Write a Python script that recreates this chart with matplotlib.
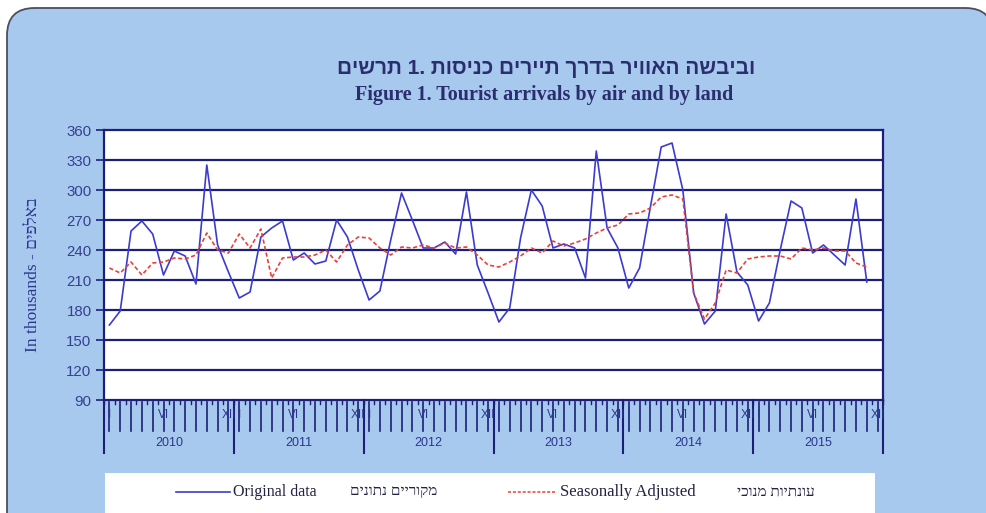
import matplotlib
matplotlib.use("Agg")
import matplotlib.pyplot as plt
from matplotlib.patches import FancyBboxPatch, Rectangle
import numpy as np

# monthly values, Jan 2010 .. Nov 2015 (thousands)
original = [165, 179, 259, 269, 256, 215, 239, 234, 206, 325, 245, 218,
            192, 198, 253, 262, 269, 230, 237, 226, 229, 270, 253, 220,
            190, 199, 250, 297, 270, 242, 242, 248, 236, 298, 225, 197,
            168, 182, 252, 300, 284, 242, 246, 242, 212, 339, 262, 242,
            202, 222, 283, 343, 347, 300, 197, 166, 179, 276, 218, 205,
            169, 187, 240, 289, 282, 237, 245, 235, 225, 291, 208]
seasonal = [222, 217, 228, 215, 227, 228, 232, 231, 235, 257, 240, 237,
            256, 242, 261, 212, 232, 233, 233, 235, 240, 228, 245, 253,
            252, 242, 235, 243, 242, 245, 242, 247, 242, 243, 235, 225,
            223, 228, 234, 242, 237, 249, 244, 247, 251, 257, 262, 265,
            276, 277, 282, 293, 295, 291, 197, 171, 187, 220, 217, 231,
            233, 234, 234, 231, 242, 240, 242, 239, 239, 227, 223]
years = ["2010", "2011", "2012", "2013", "2014", "2015"]
month_marks = {0: "I", 5: "VI", 11: "XII"}
yticks = [90, 120, 150, 180, 210, 240, 270, 300, 330, 360]

title_he = "תרשים 1. כניסות תיירים בדרך האוויר וביבשה"
title_en = "Figure 1. Tourist arrivals by air and by land"
ylabel_en = "In thousands - "
ylabel_he = "באלפים"
leg1_en, leg1_he = "Original data", "נתונים מקוריים"
leg2_en, leg2_he = "Seasonally Adjusted", "מנוכי עונתיות"

NAVY = "#1c1f78"
TXT = "#2b3590"
BG = "#a8c9ee"
W, H = 986, 513


def heb(s):
    # matplotlib has no bidi: flip the letters of each Hebrew word
    out = []
    for w in s.split(" "):
        if any("\u0590" <= c <= "\u05ff" for c in w):
            w = w[::-1]
        out.append(w)
    return " ".join(out)


def fx(px):
    return px / W


def fy(py):
    return 1 - py / H


fig = plt.figure(figsize=(W / 100, H / 100), dpi=100)
fig.patch.set_facecolor("white")

frame = FancyBboxPatch((fx(7), fy(540)), fx(993) - fx(7), fy(8) - fy(540),
                       boxstyle="round,pad=0,rounding_size=0.028",
                       transform=fig.transFigure, facecolor=BG,
                       edgecolor="#4b4e5e", linewidth=1.3,
                       mutation_aspect=W / H, zorder=-10)
fig.patches.append(frame)
fig.patches.append(Rectangle((fx(105), fy(513)), fx(875) - fx(105), fy(473) - fy(513),
                             transform=fig.transFigure, facecolor="white",
                             edgecolor="none", zorder=-9))

ax = fig.add_axes([fx(104), fy(400), fx(883) - fx(104), fy(130) - fy(400)])
ax.set_facecolor("white")

n = len(original)
x = np.arange(n) + 0.5
for v in yticks[1:-1]:
    ax.axhline(v, color=NAVY, lw=1.6, zorder=1)
ax.plot(x, seasonal, color="#e8413a", lw=1.2, ls=(0, (2.5, 1.5)), zorder=3)
ax.plot(x, original, color="#3b3bd0", lw=1.2, zorder=2)

ax.set_xlim(0, 72)
ax.set_ylim(90, 360)
for s in ax.spines.values():
    s.set_color(NAVY)
    s.set_linewidth(1.6)
ax.set_xticks([])
ax.set_yticks(yticks)
ax.tick_params(axis="y", length=6, width=1.2, color=NAVY, pad=3,
               labelsize=10.8, labelcolor="#34408f")
for lab in ax.get_yticklabels():
    lab.set_family("Liberation Sans")

# category axis drawn by hand: months, roman marks, years
tr = ax.get_xaxis_transform()
px = 1 / 270
for m in range(73):
    ax.plot([m, m], [0, -4 * px], color=NAVY, lw=1, transform=tr, clip_on=False)
for m in range(72):
    ax.plot([m + 0.5, m + 0.5], [-2 * px, -31 * px], color=NAVY, lw=1.2,
            transform=tr, clip_on=False)
    if m % 12 in month_marks:
        ax.text(m + 0.5, -15 * px, month_marks[m % 12], transform=tr,
                ha="center", va="center", fontsize=8.5, color=TXT,
                family="Liberation Sans", zorder=5)
for k, yr in enumerate(years):
    ax.plot([12 * k, 12 * k], [0, -53 * px], color=NAVY, lw=1.5,
            transform=tr, clip_on=False)
    ax.text(12 * k + 6, -43 * px, yr, transform=tr, ha="center", va="center",
            fontsize=9, color=TXT, family="Liberation Sans")
ax.plot([72, 72], [0, -53 * px], color=NAVY, lw=1.5, transform=tr, clip_on=False)

fig.text(fx(546), fy(69), heb(title_he), ha="center", va="center",
         fontsize=15, fontweight="bold", color="#2a2d6e",
         family=["Liberation Sans", "DejaVu Sans"])
fig.text(fx(544), fy(95), title_en, ha="center", va="center",
         fontsize=14.5, fontweight="bold", color="#2a2d6e",
         family="Liberation Serif")
fig.text(fx(33), fy(275), ylabel_en + heb(ylabel_he), rotation=90,
         ha="center", va="center", fontsize=12.5, color=TXT,
         family=["Liberation Serif", "DejaVu Sans"])

# legend strip
ly = fy(492)
fig.lines.append(plt.Line2D([fx(176), fx(230)], [ly, ly], color="#3b3bd0",
                            lw=1.2, transform=fig.transFigure))
fig.text(fx(233), ly, leg1_en, ha="left", va="center", fontsize=11.5,
         color="#222244", family="Liberation Serif")
fig.text(fx(350), ly, heb(leg1_he), ha="left", va="center", fontsize=11,
         color="#222244", family=["Liberation Serif", "DejaVu Sans"])
fig.lines.append(plt.Line2D([fx(508), fx(557)], [ly, ly], color="#e8413a",
                            lw=1.1, ls=(0, (2, 1.2)), transform=fig.transFigure))
fig.text(fx(560), ly, leg2_en, ha="left", va="center", fontsize=12,
         color="#222244", family="Liberation Serif")
fig.text(fx(737), ly, heb(leg2_he), ha="left", va="center", fontsize=11,
         color="#222244", family=["Liberation Serif", "DejaVu Sans"])

fig.savefig("out.png", dpi=100)
